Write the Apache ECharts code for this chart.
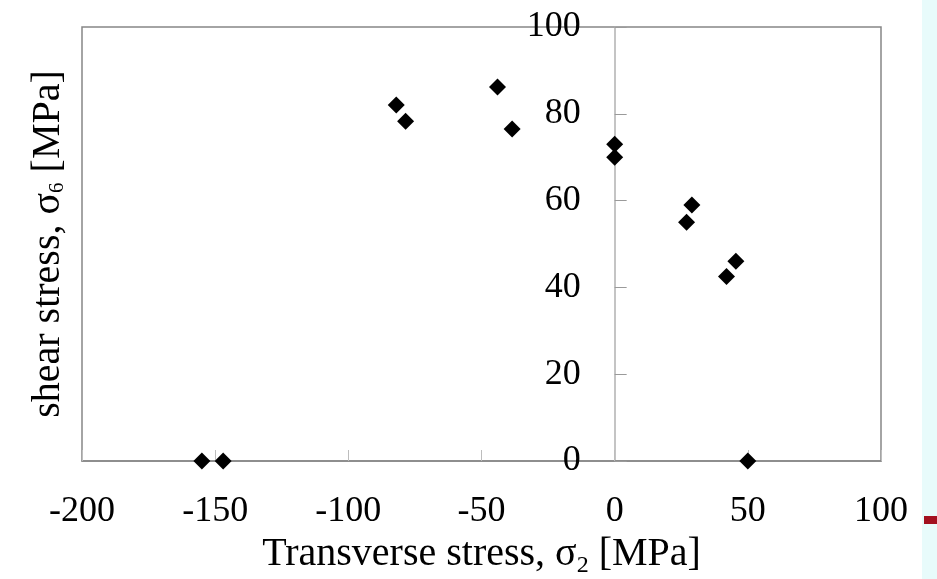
<!DOCTYPE html>
<html>
<head>
<meta charset="utf-8">
<script src="https://cdn.jsdelivr.net/npm/echarts@6/dist/echarts.min.js"></script>
<style>
html,body{margin:0;padding:0;background:#ffffff;}
#c{width:937px;height:579px;}
</style>
</head>
<body>
<div id="c"></div>
<script>
// Data
const sigma2 = [-155, -147, -82, -78.5, -44, -38.5, 0, 0, 29, 27, 45.5, 42, 50];
const sigma6 = [0, 0, 82, 78.3, 86.2, 76.5, 73, 70, 59, 55, 46, 42.5, 0];
const xTicks = [-200, -150, -100, -50, 0, 50, 100];
const yTicks = [0, 20, 40, 60, 80, 100];

const points = sigma2.map((v, i) => [v, sigma6[i]]);
const FONT = '"Liberation Serif", "DejaVu Serif", serif';

const GRID_LEFT = 82, GRID_RIGHT = 56;
const plotW = 937 - GRID_LEFT - GRID_RIGHT;
// shift the value axis so that it sits on sigma2 = 0
const zeroOffset = -plotW * (0 - xTicks[0]) / (xTicks[xTicks.length - 1] - xTicks[0]);

const chart = echarts.init(document.getElementById('c'));
chart.setOption({
  backgroundColor: '#ffffff',
  animation: false,
  grid: {left: GRID_LEFT, right: GRID_RIGHT, top: 27, bottom: 118, outerBoundsMode: 'none', containLabel: false,
         show: true, borderColor: '#868686', borderWidth: 1.5, backgroundColor: 'transparent'},
  xAxis: {
    type: 'value', min: xTicks[0], max: xTicks[xTicks.length - 1], interval: 50,
    axisLine: {onZero: false, lineStyle: {color: '#868686', width: 1.5}},
    axisTick: {inside: true, length: 11, lineStyle: {color: '#bdbdbd', width: 1}},
    axisLabel: {color: '#000', fontFamily: FONT, fontSize: 36, margin: 33},
    splitLine: {show: false},
    name: '{n|Transverse stress, σ}{s|2}{n| [MPa]}',
    nameLocation: 'middle', nameGap: 65,
    nameTextStyle: {rich: {
      n: {fontFamily: FONT, fontSize: 40, lineHeight: 40, color: '#000', verticalAlign: 'top'},
      s: {fontFamily: FONT, fontSize: 24, lineHeight: 24, color: '#000', verticalAlign: 'top', padding: [19, 0, 0, 0]}
    }}
  },
  yAxis: [{
    type: 'value', min: yTicks[0], max: yTicks[yTicks.length - 1], interval: 20,
    position: 'left', offset: zeroOffset,
    axisLine: {onZero: false, lineStyle: {color: '#b0b0b0', width: 1.5}},
    axisTick: {inside: true, length: 12, lineStyle: {color: '#9a9a9a', width: 1}},
    axisLabel: {color: '#000', fontFamily: FONT, fontSize: 36, margin: 34},
    splitLine: {show: false}
  }, {
    type: 'value', min: yTicks[0], max: yTicks[yTicks.length - 1], interval: 20, position: 'left',
    axisLine: {show: false}, axisTick: {show: false}, axisLabel: {show: false}, splitLine: {show: false},
    name: '{n|shear stress, σ}{s|6}{n| [MPa]}',
    nameLocation: 'middle', nameGap: 14, nameRotate: 90,
    nameTextStyle: {rich: {
      n: {fontFamily: FONT, fontSize: 40, lineHeight: 40, color: '#000', verticalAlign: 'top'},
      s: {fontFamily: FONT, fontSize: 21, lineHeight: 21, color: '#000', verticalAlign: 'top', padding: [19, 0, 0, 0]}
    }}
  }],
  series: [{
    type: 'scatter', xAxisIndex: 0, yAxisIndex: 0,
    symbol: 'diamond', symbolSize: 17,
    itemStyle: {color: '#000', opacity: 1},
    data: points, z: 5
  }],
  graphic: [
    {type: 'rect', shape: {x: 922, y: 0, width: 15, height: 579}, style: {fill: '#e8fbfb'}, z: -10, silent: true},
    {type: 'rect', shape: {x: 924, y: 516, width: 13, height: 8}, style: {fill: '#a3101f'}, z: 10, silent: true}
  ]
});
</script>
</body>
</html>
